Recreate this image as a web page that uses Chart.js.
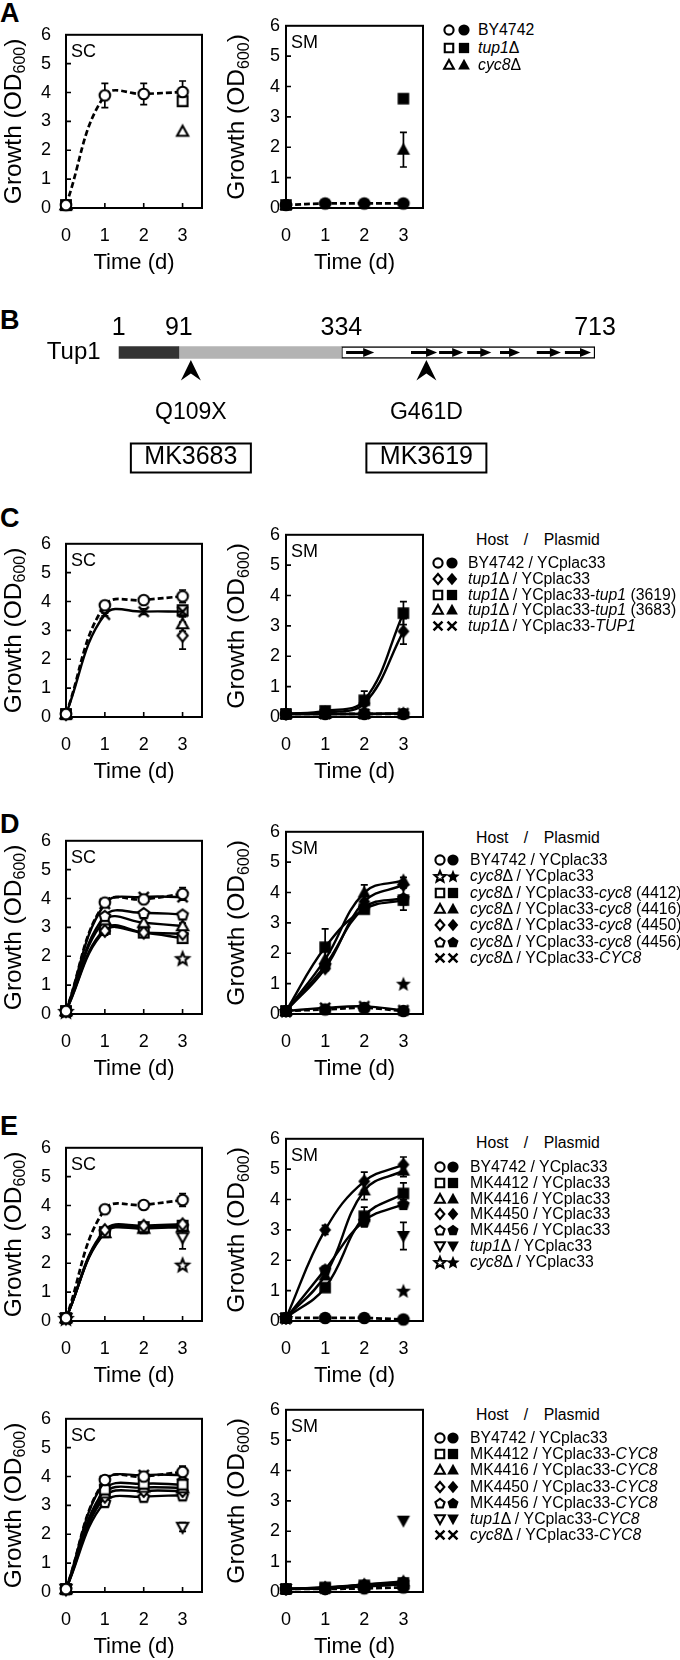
<!DOCTYPE html>
<html><head><meta charset="utf-8">
<script src="https://cdn.jsdelivr.net/npm/chart.js@4.4.1/dist/chart.umd.min.js"></script>
<style>
html,body{margin:0;padding:0;background:#fff;}
#page{position:relative;width:680px;height:1660px;overflow:hidden;background:#fff;font-family:'Liberation Sans',Arial,sans-serif;color:#000;}
.letter{position:absolute;font-weight:bold;font-size:27px;line-height:27px;}
.lg{position:absolute;white-space:nowrap;font-size:15.8px;line-height:18px;height:18px;}
.lgc{position:absolute;}
</style></head><body><div id="page"></div>
<script>
// ---------------- DATA ----------------
const days = [0, 1, 2, 3];
const yTicks = [0, 1, 2, 3, 4, 5, 6];
const xTitle = 'Time (d)';
const yTitleMain = 'Growth (OD';
const yTitleSub = '600';

// Panel A
const aScBY4742 = [0.1, 3.9, 3.95, 4.02];
const aScBY4742Err = [0, 0.42, 0.37, 0.38];
const aScTup1 = [0.1, null, null, 3.7];
const aScCyc8 = [0.1, null, null, 2.65];
const aSmBY4742 = [0.1, 0.15, 0.15, 0.15];
const aSmTup1 = [0.1, null, null, 3.6];
const aSmCyc8 = [0.1, null, null, 1.92];
const aSmCyc8Err = [0, 0, 0, 0.57];
const aLegend = ['BY4742', '<i>tup1</i>Δ', '<i>cyc8</i>Δ'];

// Panel B
const proteinName = ['Tup1'];
const domainBounds = [1, 91, 334, 713];
const wd40Repeats = [[341, 383], [438, 477], [480, 516], [522, 558], [571, 601], [626, 662], [668, 707]];
const mutationSites = [109, 461];
const mutationLabels = ['Q109X', 'G461D'];
const mutantStrains = ['MK3683', 'MK3619'];

// Panel C
const cScBY = [0.1, 3.87, 4.05, 4.18];
const cScBYErr = [0, 0.08, 0.1, 0.22];
const cScTup1 = [0.1, null, null, 2.82];
const cScTup1Err = [0, 0, 0, 0.47];
const cSc3619 = [0.1, null, null, 3.7];
const cSc3619Err = [0, 0, 0, 0.12];
const cSc3683 = [0.1, null, null, 3.22];
const cSc3683Err = [0, 0, 0, 0.25];
const cScTUP1 = [0.1, 3.55, 3.65, 3.65];
const cScTUP1Err = [0, 0.05, 0.1, 0.05];
const cSmBY = [0.1, 0.1, 0.1, 0.1];
const cSmTup1 = [0.1, 0.15, 0.45, 2.82];
const cSmTup1Err = [0, 0, 0, 0.42];
const cSm3619 = [0.1, 0.2, 0.55, 3.42];
const cSm3619Err = [0, 0.05, 0.3, 0.38];
const cSm3683 = [0.1, 0.1, 0.1, 0.12];
const cSmTUP1 = [0.1, 0.1, 0.1, 0.12];
const cLegend = ['BY4742 / YCplac33', '<i>tup1</i>Δ / YCplac33', '<i>tup1</i>Δ / YCplac33-<i>tup1</i> (3619)',
  '<i>tup1</i>Δ / YCplac33-<i>tup1</i> (3683)', '<i>tup1</i>Δ / YCplac33-<i>TUP1</i>'];

// Panel D
const dScBY = [0.1, 3.86, 3.97, 4.16];
const dScBYErr = [0, 0.06, 0.1, 0.22];
const dScCyc8 = [0.1, null, null, 1.93];
const dSc4412 = [0.1, 2.95, 2.82, 2.63];
const dSc4412Err = [0, 0, 0, 0.12];
const dSc4416 = [0.1, 3.25, 3.16, 3.05];
const dSc4416Err = [0, 0, 0, 0.1];
const dSc4450 = [0.1, 2.88, 2.82, 2.78];
const dSc4450Err = [0, 0.15, 0, 0.08];
const dSc4456 = [0.1, 3.4, 3.5, 3.45];
const dScCYC8 = [0.1, 3.82, 4.05, 4.05];
const dSmBY = [0.1, 0.15, 0.2, 0.1];
const dSmCyc8 = [0.1, null, null, 1.0];
const dSm4412 = [0.1, 2.2, 3.45, 3.75];
const dSm4412Err = [0, 0.6, 0.1, 0.15];
const dSm4416 = [0.1, 1.8, 4.0, 4.4];
const dSm4416Err = [0, 0, 0.25, 0.1];
const dSm4450 = [0.1, 1.5, 3.7, 4.25];
const dSm4450Err = [0, 0, 0, 0.1];
const dSm4456 = [0.1, 1.6, 3.5, 3.82];
const dSm4456Err = [0, 0, 0, 0.4];
const dSmCYC8 = [0.1, 0.2, 0.25, 0.12];
const dLegend = ['BY4742 / YCplac33', '<i>cyc8</i>Δ / YCplac33', '<i>cyc8</i>Δ / YCplac33-<i>cyc8</i> (4412)',
  '<i>cyc8</i>Δ / YCplac33-<i>cyc8</i> (4416)', '<i>cyc8</i>Δ / YCplac33-<i>cyc8</i> (4450)',
  '<i>cyc8</i>Δ / YCplac33-<i>cyc8</i> (4456)', '<i>cyc8</i>Δ / YCplac33-<i>CYC8</i>'];

// Panel E (top)
const eScBY = [0.1, 3.87, 4.02, 4.19];
const eScBYErr = [0, 0.05, 0.08, 0.22];
const eSc4412 = [0.1, 3.08, 3.25, 3.3];
const eSc4416 = [0.1, 3.05, 3.2, 3.25];
const eSc4450 = [0.1, 3.15, 3.3, 3.35];
const eSc4450Err = [0, 0, 0.1, 0.1];
const eSc4456 = [0.1, 3.1, 3.22, 3.28];
const eScTup1 = [0.1, null, null, 2.9];
const eScTup1Err = [0, 0, 0, 0.4];
const eScCyc8 = [0.1, null, null, 1.95];
const eSmBY = [0.1, 0.1, 0.1, 0.05];
const eSm4412 = [0.1, 1.1, 3.45, 4.2];
const eSm4412Err = [0, 0.1, 0.3, 0.35];
const eSm4416 = [0.1, 1.5, 4.3, 4.95];
const eSm4416Err = [0, 0.1, 0.3, 0.2];
const eSm4450 = [0.1, 3.0, 4.6, 5.15];
const eSm4450Err = [0, 0.15, 0.3, 0.25];
const eSm4456 = [0.1, 1.7, 3.3, 3.85];
const eSm4456Err = [0, 0.1, 0.2, 0.15];
const eSmTup1 = [0.1, null, null, 2.8];
const eSmTup1Err = [0, 0, 0, 0.45];
const eSmCyc8 = [0.1, null, null, 1.0];
const eLegend = ['BY4742 / YCplac33', 'MK4412 / YCplac33', 'MK4416 / YCplac33', 'MK4450 / YCplac33',
  'MK4456 / YCplac33', '<i>tup1</i>Δ / YCplac33', '<i>cyc8</i>Δ / YCplac33'];

// Panel E (bottom)
const e2ScBY = [0.1, 3.88, 4.0, 4.16];
const e2ScBYErr = [0, 0.05, 0.1, 0.2];
const e2Sc4412 = [0.1, 3.55, 3.75, 3.72];
const e2Sc4416 = [0.1, 3.42, 3.62, 3.6];
const e2Sc4450 = [0.1, 3.3, 3.5, 3.5];
const e2Sc4456 = [0.1, 3.12, 3.3, 3.35];
const e2Sc4456Err = [0, 0.08, 0.08, 0.1];
const e2ScTup1 = [0.1, null, null, 2.25];
const e2ScTup1Err = [0, 0, 0, 0.15];
const e2ScCyc8 = [0.1, 3.85, 4.05, 4.05];
const e2SmBY = [0.1, 0.1, 0.12, 0.15];
const e2Sm4412 = [0.1, 0.15, 0.22, 0.3];
const e2Sm4416 = [0.1, 0.15, 0.25, 0.35];
const e2Sm4450 = [0.1, 0.12, 0.2, 0.28];
const e2Sm4456 = [0.1, 0.14, 0.24, 0.32];
const e2SmTup1 = [0.1, null, null, 2.35];
const e2SmCyc8 = [0.1, 0.12, 0.18, 0.25];
const e2Legend = ['BY4742 / YCplac33', 'MK4412 / YCplac33-<i>CYC8</i>', 'MK4416 / YCplac33-<i>CYC8</i>',
  'MK4450 / YCplac33-<i>CYC8</i>', 'MK4456 / YCplac33-<i>CYC8</i>', '<i>tup1</i>Δ / YCplac33-<i>CYC8</i>',
  '<i>cyc8</i>Δ / YCplac33-<i>CYC8</i>'];

// ---------------- DRAWING ----------------
const FONT = "'Liberation Sans', Arial, sans-serif";
const page = document.getElementById('page');

function shapePath(ctx, shape, r) {
  ctx.beginPath();
  if (shape === 'circle') ctx.arc(0, 0, r, 0, Math.PI * 2);
  else if (shape === 'square') ctx.rect(-r * 0.92, -r * 0.92, r * 1.84, r * 1.84);
  else if (shape === 'triangle') { ctx.moveTo(0, -r * 1.1); ctx.lineTo(r * 1.05, r * 0.8); ctx.lineTo(-r * 1.05, r * 0.8); ctx.closePath(); }
  else if (shape === 'invTriangle') { ctx.moveTo(0, r * 1.1); ctx.lineTo(r * 1.05, -r * 0.8); ctx.lineTo(-r * 1.05, -r * 0.8); ctx.closePath(); }
  else if (shape === 'diamond') { ctx.moveTo(0, -r * 1.1); ctx.lineTo(r * 0.95, 0); ctx.lineTo(0, r * 1.1); ctx.lineTo(-r * 0.95, 0); ctx.closePath(); }
  else if (shape === 'pentagon') {
    for (let k = 0; k < 5; k++) { const a = -Math.PI / 2 + k * 2 * Math.PI / 5; const px = Math.cos(a) * r * 1.05, py = Math.sin(a) * r * 1.05 + 0.6; k ? ctx.lineTo(px, py) : ctx.moveTo(px, py); }
    ctx.closePath();
  } else if (shape === 'star') {
    for (let k = 0; k < 10; k++) { const a = -Math.PI / 2 + k * Math.PI / 5; const rr = k % 2 ? r * 0.55 : r * 1.25; const px = Math.cos(a) * rr, py = Math.sin(a) * rr + 0.8; k ? ctx.lineTo(px, py) : ctx.moveTo(px, py); }
    ctx.closePath();
  }
}
function drawMarker(ctx, shape, filled, x, y, r) {
  ctx.save(); ctx.translate(x, y);
  ctx.strokeStyle = '#000'; ctx.fillStyle = '#000';
  if (shape === 'cross') {
    const d = r * 0.8; ctx.lineWidth = 2.5; ctx.lineCap = 'butt';
    ctx.beginPath(); ctx.moveTo(-d, -d); ctx.lineTo(d, d); ctx.moveTo(d, -d); ctx.lineTo(-d, d); ctx.stroke();
  } else if (filled) {
    shapePath(ctx, shape, r); ctx.fill();
  } else {
    shapePath(ctx, shape, r - 1); ctx.fillStyle = '#fff'; ctx.fill(); ctx.lineWidth = 2.1; ctx.lineJoin = 'miter'; ctx.stroke();
  }
  ctx.restore();
}
const markerCache = {};
function markerCanvas(shape, filled) {
  const key = shape + filled;
  if (!markerCache[key]) {
    const c = document.createElement('canvas'); c.width = 20; c.height = 20;
    drawMarker(c.getContext('2d'), shape, filled, 10, 10, 6.3);
    markerCache[key] = c;
  }
  return markerCache[key];
}
function series(vals, errs, shape, filled, line) {
  return {
    data: days.map((d, i) => ({ x: d, y: vals[i] })),
    vals, errs,
    pointStyle: markerCanvas(shape, filled), pointRadius: 6,
    showLine: line !== 'none',
    borderDash: line === 'dash' ? [6, 3] : [],
    borderColor: '#000', borderWidth: line === 'dash' ? 2.7 : 2.4,
    backgroundColor: '#000',
    tension: 0.4, clip: false, fill: false
  };
}

const growthPlugin = {
  id: 'growthDeco',
  beforeDatasetsDraw(chart, args, opts) {
    const { ctx, chartArea: a, scales: { x, y } } = chart;
    ctx.save();
    ctx.strokeStyle = '#000';
    ctx.lineWidth = 1.6;
    ctx.beginPath();
    days.forEach(v => { if (v > 0) { const px = x.getPixelForValue(v); ctx.moveTo(px, a.bottom); ctx.lineTo(px, a.bottom - 5); } });
    yTicks.forEach(v => { if (v > 0 && v < 6) { const py = y.getPixelForValue(v); ctx.moveTo(a.left, py); ctx.lineTo(a.left + 5, py); } });
    ctx.stroke();
    ctx.lineWidth = 2;
    ctx.strokeRect(a.left, a.top, a.right - a.left, a.bottom - a.top);
    ctx.lineWidth = 1.7;
    chart.data.datasets.forEach(ds => {
      if (!ds.errs) return;
      ds.vals.forEach((v, i) => {
        const e = ds.errs[i];
        if (v == null || !e) return;
        const px = x.getPixelForValue(days[i]);
        const y1 = y.getPixelForValue(v + e), y2 = y.getPixelForValue(v - e);
        ctx.beginPath();
        ctx.moveTo(px, y1); ctx.lineTo(px, y2);
        ctx.moveTo(px - 3.5, y1); ctx.lineTo(px + 3.5, y1);
        ctx.moveTo(px - 3.5, y2); ctx.lineTo(px + 3.5, y2);
        ctx.stroke();
      });
    });
    ctx.restore();
  },
  afterDraw(chart, args, opts) {
    const { ctx, chartArea: a } = chart;
    ctx.save();
    ctx.fillStyle = '#000';
    ctx.font = `18px ${FONT}`; ctx.textAlign = 'left'; ctx.textBaseline = 'alphabetic';
    ctx.fillText(opts.medium, a.left + 5, a.top + 22.5);
    ctx.font = `22px ${FONT}`; ctx.textAlign = 'center'; ctx.textBaseline = 'middle';
    ctx.fillText(xTitle, (a.left + a.right) / 2, a.bottom + 55);
    ctx.translate(a.left + opts.yTitleOffset, (a.top + a.bottom) / 2);
    ctx.rotate(-Math.PI / 2);
    ctx.textAlign = 'left'; ctx.textBaseline = 'alphabetic';
    ctx.font = `24.5px ${FONT}`; const w1 = ctx.measureText(yTitleMain).width; const w3 = ctx.measureText(')').width;
    ctx.font = `16px ${FONT}`; const w2 = ctx.measureText(yTitleSub).width;
    let sx = -(w1 + w2 + w3) / 2;
    ctx.font = `24.5px ${FONT}`; ctx.fillText(yTitleMain, sx, 8.5); sx += w1;
    ctx.font = `16px ${FONT}`; ctx.fillText(yTitleSub, sx, 13); sx += w2;
    ctx.font = `24.5px ${FONT}`; ctx.fillText(')', sx, 8.5);
    ctx.restore();
  }
};

function makeCanvas(left, top, w, h) {
  const c = document.createElement('canvas');
  c.width = w; c.height = h;
  c.style.cssText = `position:absolute;left:${left}px;top:${top}px;width:${w}px;height:${h}px;`;
  page.appendChild(c);
  return c;
}

function growthChart(side, plotTop, datasets) {
  const isSC = side === 'SC';
  const left = isSC ? 0 : 218;
  const W = 215, padTop = 14, xH = 66, plotH = 185;
  const yW = isSC ? 66 : 68;
  const rightPad = isSC ? 13 : 10;
  const cv = makeCanvas(left, plotTop - padTop, W, padTop + plotH + xH);
  return new Chart(cv, {
    type: 'line',
    data: { datasets },
    options: {
      responsive: false, animation: false, events: [], devicePixelRatio: 1,
      layout: { padding: { top: padTop, right: rightPad, bottom: 0, left: 0 } },
      scales: {
        x: {
          type: 'linear', min: 0, max: 3.5,
          afterBuildTicks: s => { s.ticks = days.map(v => ({ value: v })); },
          afterFit: s => { s.height = xH; },
          grid: { display: false, drawTicks: false }, border: { display: false },
          ticks: { font: { family: FONT, size: 18 }, color: '#000', padding: 17, maxRotation: 0, autoSkip: false }
        },
        y: {
          type: 'linear', min: 0, max: 6,
          afterBuildTicks: s => { s.ticks = yTicks.map(v => ({ value: v })); },
          afterFit: s => { s.width = yW; },
          grid: { display: false, drawTicks: false }, border: { display: false },
          ticks: { font: { family: FONT, size: 18 }, color: '#000', padding: isSC ? 15 : 6, autoSkip: false }
        }
      },
      plugins: {
        legend: { display: false }, tooltip: { enabled: false },
        growthDeco: { medium: side, yTitleOffset: isSC ? -54 : -50.5 }
      }
    },
    plugins: [growthPlugin]
  });
}

function letter(ch, top) {
  const d = document.createElement('div'); d.className = 'letter'; d.textContent = ch;
  d.style.left = '0px'; d.style.top = top + 'px'; page.appendChild(d);
}

function legend(labels, shapes, cfg) {
  if (cfg.headerY != null) {
    const h = document.createElement('div'); h.className = 'lg';
    h.style.left = '476px'; h.style.top = (cfg.headerY - 9) + 'px'; h.style.wordSpacing = '11px';
    h.textContent = 'Host / Plasmid'; page.appendChild(h);
  }
  labels.forEach((lab, i) => {
    const cy = cfg.firstY + i * cfg.spacing;
    const c = document.createElement('canvas'); c.width = 34; c.height = 18; c.className = 'lgc';
    c.style.left = (cfg.symX - 8) + 'px'; c.style.top = (cy - 9) + 'px';
    const g = c.getContext('2d');
    drawMarker(g, shapes[i], false, 8, 9, 5.6);
    drawMarker(g, shapes[i], true, 8 + cfg.dx, 9, 5.6);
    page.appendChild(c);
    const t = document.createElement('div'); t.className = 'lg';
    t.style.left = cfg.textX + 'px'; t.style.top = (cy - 9) + 'px'; t.innerHTML = lab;
    page.appendChild(t);
  });
}

// ---------- Panel A ----------
letter('A', 0);
growthChart('SC', 23, [
  series(aScBY4742, aScBY4742Err, 'circle', false, 'dash'),
  series(aScTup1, null, 'square', false, 'none'),
  series(aScCyc8, null, 'triangle', false, 'none')
]);
growthChart('SM', 23, [
  series(aSmBY4742, null, 'circle', true, 'dash'),
  series(aSmTup1, null, 'square', true, 'none'),
  series(aSmCyc8, aSmCyc8Err, 'triangle', true, 'none')
]);
legend(aLegend, ['circle', 'square', 'triangle'], { firstY: 30, spacing: 17.5, symX: 449, dx: 15, textX: 478 });

// ---------- Panel B ----------
letter('B', 307);
(function () {
  const cv = makeCanvas(0, 290, 680, 200);
  const tupPlugin = {
    id: 'tupDeco',
    afterDatasetsDraw(chart) {
      const { ctx, chartArea: a, scales: { x } } = chart;
      const cy = (a.top + a.bottom) / 2;
      ctx.save();
      ctx.fillStyle = '#000'; ctx.strokeStyle = '#000';
      wd40Repeats.forEach(([s, e]) => {
        const x1 = x.getPixelForValue(s), x2 = x.getPixelForValue(e);
        ctx.lineWidth = 3; ctx.beginPath(); ctx.moveTo(x1, cy); ctx.lineTo(x2 - 8, cy); ctx.stroke();
        ctx.beginPath(); ctx.moveTo(x2, cy); ctx.lineTo(x2 - 11, cy - 4.5); ctx.lineTo(x2 - 11, cy + 4.5); ctx.closePath(); ctx.fill();
      });
      ctx.font = `25px ${FONT}`; ctx.textAlign = 'center'; ctx.textBaseline = 'alphabetic';
      domainBounds.forEach(v => ctx.fillText(String(v), x.getPixelForValue(v), cy - 17.5));
      mutationSites.forEach((m, i) => {
        const px = x.getPixelForValue(m);
        ctx.beginPath();
        ctx.moveTo(px, cy + 7.5); ctx.lineTo(px + 10, cy + 28); ctx.lineTo(px, cy + 21); ctx.lineTo(px - 10, cy + 28); ctx.closePath(); ctx.fill();
        ctx.font = `23px ${FONT}`;
        ctx.fillText(mutationLabels[i], px, cy + 66);
        ctx.lineWidth = 2;
        ctx.strokeRect(px - 60, cy + 91, 120, 29);
        ctx.font = `25px ${FONT}`;
        ctx.fillText(mutantStrains[i], px, cy + 111);
      });
      ctx.restore();
    }
  };
  new Chart(cv, {
    type: 'bar',
    data: {
      labels: proteinName,
      datasets: [
        { data: [[domainBounds[0], domainBounds[1]]], backgroundColor: '#333333', borderWidth: 0, barThickness: 12, grouped: false },
        { data: [[domainBounds[1], domainBounds[2]]], backgroundColor: '#b3b3b3', borderWidth: 0, barThickness: 12, grouped: false },
        { data: [[domainBounds[2], domainBounds[3]]], backgroundColor: '#ffffff', borderColor: '#000', borderWidth: 1.5, borderSkipped: false, barThickness: 12, grouped: false }
      ]
    },
    options: {
      indexAxis: 'y', responsive: false, animation: false, events: [], devicePixelRatio: 1,
      layout: { padding: { top: 50.5, bottom: 125.5, left: 0, right: 85 } },
      scales: {
        x: { type: 'linear', min: 1, max: 713, display: false },
        y: {
          afterFit: s => { s.width = 118.6; },
          grid: { display: false, drawTicks: false }, border: { display: false },
          ticks: { font: { family: FONT, size: 24 }, color: '#000', padding: 18 }
        }
      },
      plugins: { legend: { display: false }, tooltip: { enabled: false } }
    },
    plugins: [tupPlugin]
  });
})();

// ---------- Panel C ----------
letter('C', 505);
growthChart('SC', 532, [
  series(cScBY, cScBYErr, 'circle', false, 'dash'),
  series(cScTUP1, cScTUP1Err, 'cross', false, 'solid'),
  series(cSc3619, cSc3619Err, 'square', false, 'none'),
  series(cSc3683, cSc3683Err, 'triangle', false, 'none'),
  series(cScTup1, cScTup1Err, 'diamond', false, 'none')
]);
growthChart('SM', 532, [
  series(cSmBY, null, 'circle', true, 'dash'),
  series(cSm3619, cSm3619Err, 'square', true, 'solid'),
  series(cSmTup1, cSmTup1Err, 'diamond', true, 'solid'),
  series(cSm3683, null, 'triangle', true, 'solid'),
  series(cSmTUP1, null, 'cross', true, 'solid')
]);
legend(cLegend, ['circle', 'diamond', 'square', 'triangle', 'cross'], { headerY: 540, firstY: 563.3, spacing: 15.6, symX: 438, dx: 14, textX: 468 });

// ---------- Panel D ----------
letter('D', 811);
growthChart('SC', 829, [
  series(dScBY, dScBYErr, 'circle', false, 'dash'),
  series(dScCYC8, null, 'cross', false, 'solid'),
  series(dSc4456, null, 'pentagon', false, 'solid'),
  series(dSc4416, dSc4416Err, 'triangle', false, 'solid'),
  series(dSc4450, dSc4450Err, 'diamond', false, 'solid'),
  series(dSc4412, dSc4412Err, 'square', false, 'solid'),
  series(dScCyc8, null, 'star', false, 'none')
]);
growthChart('SM', 829, [
  series(dSmBY, null, 'circle', true, 'dash'),
  series(dSmCYC8, null, 'cross', true, 'solid'),
  series(dSm4416, dSm4416Err, 'triangle', true, 'solid'),
  series(dSm4450, dSm4450Err, 'diamond', true, 'solid'),
  series(dSm4456, dSm4456Err, 'pentagon', true, 'solid'),
  series(dSm4412, dSm4412Err, 'square', true, 'solid'),
  series(dSmCyc8, null, 'star', true, 'none')
]);
legend(dLegend, ['circle', 'star', 'square', 'triangle', 'diamond', 'pentagon', 'cross'], { headerY: 838, firstY: 860, spacing: 16.3, symX: 440, dx: 13, textX: 470 });

// ---------- Panel E (top) ----------
letter('E', 1113);
growthChart('SC', 1136, [
  series(eScBY, eScBYErr, 'circle', false, 'dash'),
  series(eSc4450, eSc4450Err, 'diamond', false, 'solid'),
  series(eSc4412, null, 'square', false, 'solid'),
  series(eSc4456, null, 'pentagon', false, 'solid'),
  series(eSc4416, null, 'triangle', false, 'solid'),
  series(eScTup1, eScTup1Err, 'invTriangle', false, 'none'),
  series(eScCyc8, null, 'star', false, 'none')
]);
growthChart('SM', 1136, [
  series(eSmBY, null, 'circle', true, 'dash'),
  series(eSm4450, eSm4450Err, 'diamond', true, 'solid'),
  series(eSm4416, eSm4416Err, 'triangle', true, 'solid'),
  series(eSm4412, eSm4412Err, 'square', true, 'solid'),
  series(eSm4456, eSm4456Err, 'pentagon', true, 'solid'),
  series(eSmTup1, eSmTup1Err, 'invTriangle', true, 'none'),
  series(eSmCyc8, null, 'star', true, 'none')
]);
legend(eLegend, ['circle', 'square', 'triangle', 'diamond', 'pentagon', 'invTriangle', 'star'], { headerY: 1143, firstY: 1167, spacing: 15.8, symX: 440, dx: 13, textX: 470 });

// ---------- Panel E (bottom) ----------
growthChart('SC', 1407, [
  series(e2ScBY, e2ScBYErr, 'circle', false, 'dash'),
  series(e2ScCyc8, null, 'cross', false, 'solid'),
  series(e2Sc4412, null, 'square', false, 'solid'),
  series(e2Sc4416, null, 'triangle', false, 'solid'),
  series(e2Sc4450, null, 'diamond', false, 'solid'),
  series(e2Sc4456, e2Sc4456Err, 'pentagon', false, 'solid'),
  series(e2ScTup1, e2ScTup1Err, 'invTriangle', false, 'none')
]);
growthChart('SM', 1407, [
  series(e2SmBY, null, 'circle', true, 'dash'),
  series(e2SmCyc8, null, 'cross', true, 'solid'),
  series(e2Sm4412, null, 'square', true, 'solid'),
  series(e2Sm4416, null, 'triangle', true, 'solid'),
  series(e2Sm4450, null, 'diamond', true, 'solid'),
  series(e2Sm4456, null, 'pentagon', true, 'solid'),
  series(e2SmTup1, null, 'invTriangle', true, 'none')
]);
legend(e2Legend, ['circle', 'square', 'triangle', 'diamond', 'pentagon', 'invTriangle', 'cross'], { headerY: 1415, firstY: 1438, spacing: 16.2, symX: 440, dx: 13, textX: 470 });
</script></body></html>
